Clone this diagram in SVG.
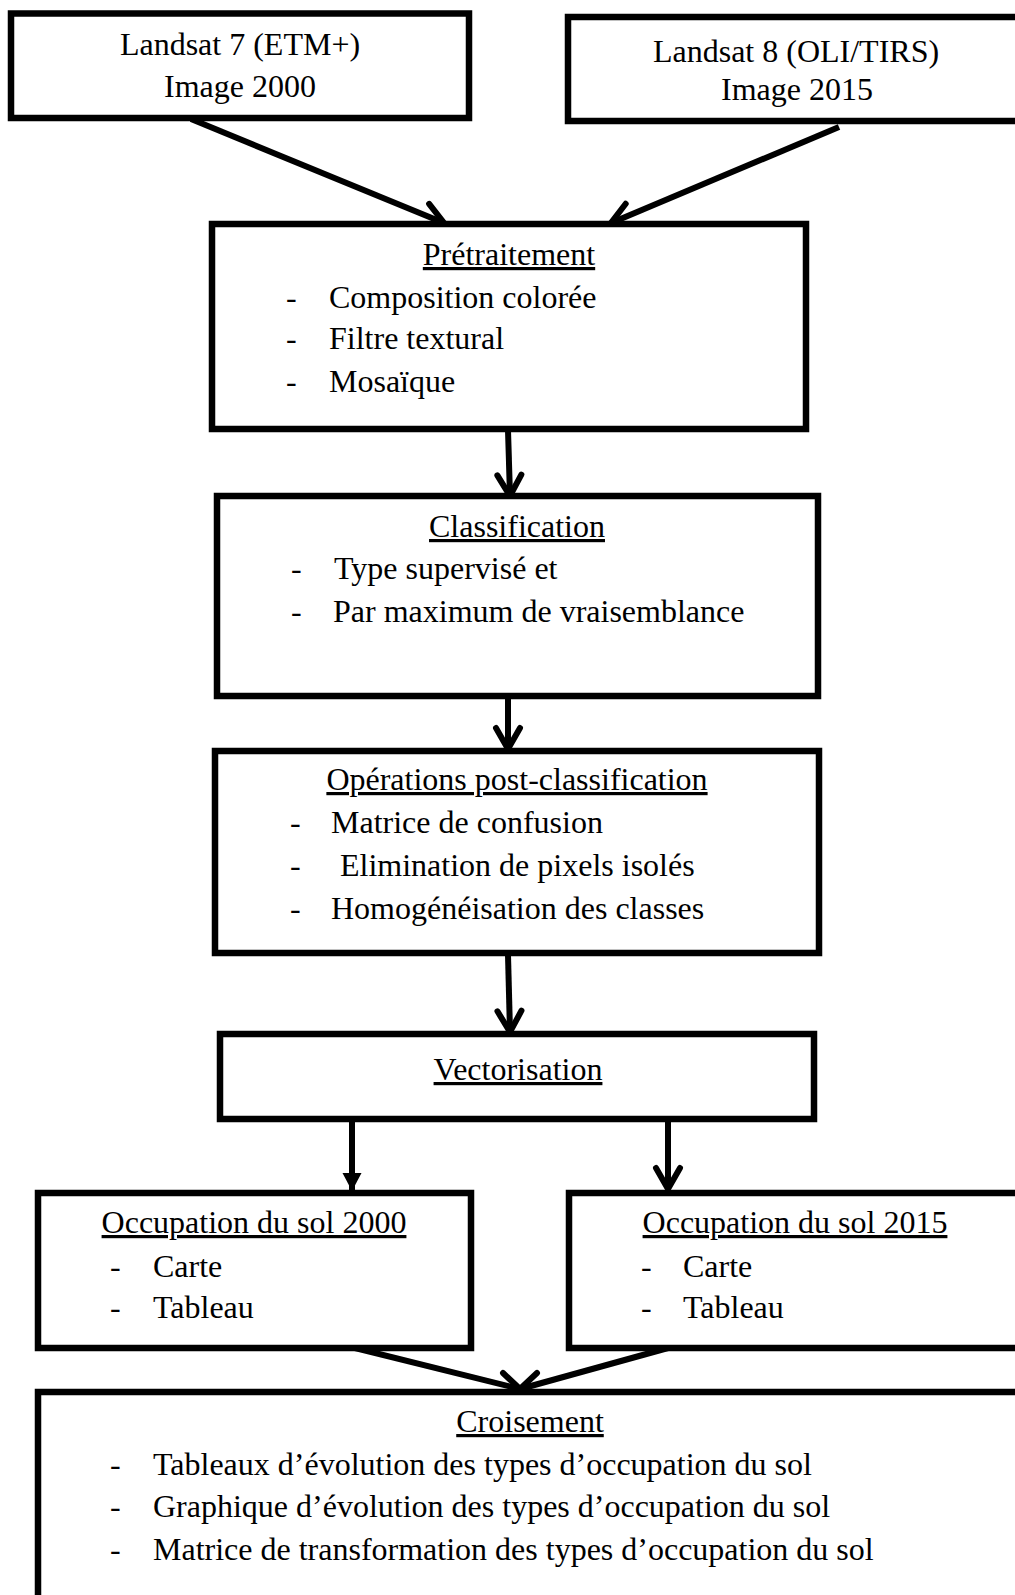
<svg xmlns="http://www.w3.org/2000/svg" width="1015" height="1595" viewBox="0 0 1015 1595">
<style>
.box{fill:#fff;stroke:#000;stroke-width:6.5}
.t{font-family:"Liberation Serif","Times New Roman",serif;font-size:32px;fill:#000}
.c{text-anchor:middle}
.u{text-decoration:underline}
.con{fill:none;stroke:#000;stroke-width:6}
</style>
<defs>
<marker id="open" markerUnits="userSpaceOnUse" viewBox="-28 -17 34 34" refX="0" refY="0" markerWidth="34" markerHeight="34" orient="auto" overflow="visible">
<path d="M-21,-12 L0,0 L-21,12" fill="none" stroke="#000" stroke-width="6" stroke-linecap="round" stroke-linejoin="miter"/>
</marker>
<marker id="solid" markerUnits="userSpaceOnUse" viewBox="-20 -12 24 24" refX="0" refY="0" markerWidth="24" markerHeight="24" orient="auto" overflow="visible">
<path d="M-17,-9.5 L1,0 L-17,9.5 z" fill="#000"/>
</marker>
</defs>
<rect width="1015" height="1595" fill="#fff"/>
<g id="connectors">
<line class="con" x1="191" y1="119" x2="444" y2="223" marker-end="url(#open)"/>
<line class="con" x1="839" y1="127" x2="611" y2="223" marker-end="url(#open)"/>
<line class="con" x1="508" y1="430" x2="510" y2="496" marker-end="url(#open)"/>
<line class="con" x1="508" y1="697" x2="508" y2="749" marker-end="url(#open)"/>
<line class="con" x1="508" y1="955" x2="510" y2="1032" marker-end="url(#open)"/>
<line class="con" x1="352" y1="1120" x2="352" y2="1190" marker-end="url(#solid)"/>
<line class="con" x1="668" y1="1120" x2="668" y2="1189" marker-end="url(#open)"/>
<line class="con" x1="355" y1="1348" x2="520" y2="1389"/>
<line class="con" x1="668" y1="1348" x2="520" y2="1389"/>
<path class="con" d="M503,1373 L520,1389 L537,1373" stroke-linecap="round"/>
</g>
<g id="n1">
<rect class="box" x="11" y="13.5" width="458" height="104.5"/>
<text class="t c" x="240" y="55">Landsat 7 (ETM+)</text>
<text class="t c" x="240" y="97">Image 2000</text>
</g>
<g id="n2">
<rect class="box" x="568" y="17" width="470" height="104"/>
<text class="t c" x="796" y="62">Landsat 8 (OLI/TIRS)</text>
<text class="t c" x="797" y="100">Image 2015</text>
</g>
<g id="n3">
<rect class="box" x="212" y="224" width="594" height="205"/>
<text class="t c u" x="509" y="265">Prétraitement</text>
<text class="t" x="286" y="308">-</text><text class="t" x="329" y="308">Composition colorée</text>
<text class="t" x="286" y="349">-</text><text class="t" x="329" y="349">Filtre textural</text>
<text class="t" x="286" y="392">-</text><text class="t" x="329" y="392">Mosaïque</text>
</g>
<g id="n4">
<rect class="box" x="217" y="496" width="601" height="200"/>
<text class="t c u" x="517" y="537">Classification</text>
<text class="t" x="291" y="579">-</text><text class="t" x="334" y="579">Type supervisé et</text>
<text class="t" x="291" y="622">-</text><text class="t" x="333" y="622">Par maximum de vraisemblance</text>
</g>
<g id="n5">
<rect class="box" x="215" y="751" width="604" height="202"/>
<text class="t c u" x="517" y="790">Opérations post-classification</text>
<text class="t" x="290" y="833">-</text><text class="t" x="331" y="833">Matrice de confusion</text>
<text class="t" x="290" y="876">-</text><text class="t" x="340" y="876">Elimination de pixels isolés</text>
<text class="t" x="290" y="919">-</text><text class="t" x="331" y="919">Homogénéisation des classes</text>
</g>
<g id="n6">
<rect class="box" x="220" y="1034" width="594" height="85"/>
<text class="t c u" x="518" y="1080">Vectorisation</text>
</g>
<g id="n7">
<rect class="box" x="38" y="1193" width="433" height="155"/>
<text class="t c u" x="254" y="1233">Occupation du sol 2000</text>
<text class="t" x="110" y="1277">-</text><text class="t" x="153" y="1277">Carte</text>
<text class="t" x="110" y="1318">-</text><text class="t" x="153" y="1318">Tableau</text>
</g>
<g id="n8">
<rect class="box" x="569" y="1193" width="471" height="155"/>
<text class="t c u" x="795" y="1233">Occupation du sol 2015</text>
<text class="t" x="641" y="1277">-</text><text class="t" x="683" y="1277">Carte</text>
<text class="t" x="641" y="1318">-</text><text class="t" x="683" y="1318">Tableau</text>
</g>
<g id="n9">
<rect class="box" x="38" y="1392" width="1002" height="230"/>
<text class="t c u" x="530" y="1432">Croisement</text>
<text class="t" x="110" y="1475">-</text><text class="t" x="153" y="1475">Tableaux d’évolution des types d’occupation du sol</text>
<text class="t" x="110" y="1517">-</text><text class="t" x="153" y="1517">Graphique d’évolution des types d’occupation du sol</text>
<text class="t" x="110" y="1560">-</text><text class="t" x="153" y="1560">Matrice de transformation des types d’occupation du sol</text>
</g>
</svg>
